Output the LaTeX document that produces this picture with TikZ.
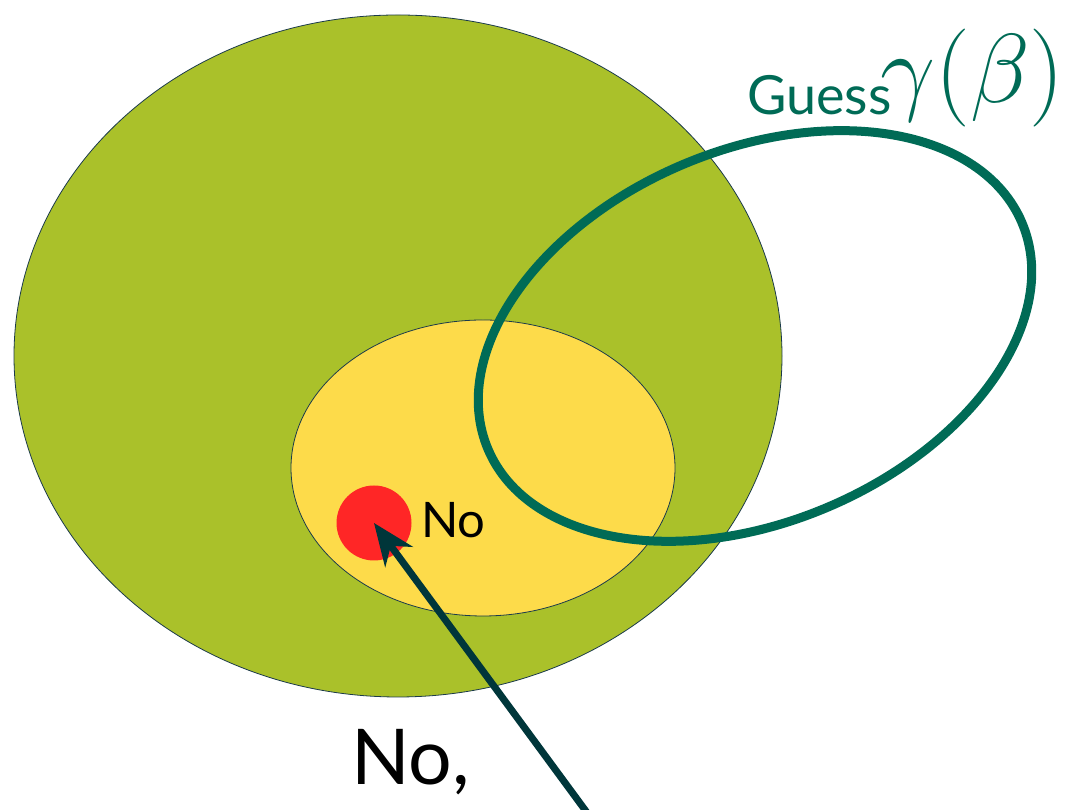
\documentclass[tikz,border=0pt]{standalone}
\usepackage{fix-cm}
\usepackage[no-math]{fontspec}
\setmainfont{Lato}
\usetikzlibrary{arrows.meta}

\definecolor{outer}{HTML}{AAC12A}
\definecolor{inner}{HTML}{FDDB4A}
\definecolor{guess}{HTML}{006B56}
\definecolor{edge}{HTML}{1B3A4B}
\definecolor{pointer}{HTML}{00363A}
\definecolor{hit}{HTML}{FF2626}

\begin{document}
\begin{tikzpicture}[
	x=1pt, y=1pt,
	set/.style = {draw=edge, line width=0.8},
	g/.style = {draw=guess, line width=9},
	p/.style = {-{Stealth[length=42, width=34]}, draw=pointer, line width=7},
	l/.style = {text=black, inner sep=0}
	]
	\useasboundingbox (0, 0) rectangle (1066, 810);
	
	%Sets
	\draw[set, fill=outer]	(398, 454)	ellipse	[x radius=384, y radius=341];
	\draw[set, fill=inner]	(483, 342)	ellipse	[x radius=192, y radius=148];
	\draw[g, rotate around={23:(755, 474)}]	(755, 474)	ellipse	[x radius=290, y radius=186];
	
	%Nodes
	\node[circle, fill=hit, minimum size=75, inner sep=0]	(dot)	at	(374, 287)	{};
	\node[l, anchor=base west]	(no-s)	at	(421, 272)	{\fontsize{49}{56}\selectfont No};
	\node[l, anchor=base west]	(no-b)	at	(351, 25)	{\fontsize{77}{88}\selectfont No,};
	\node[l, text=guess, anchor=base west]	(g-lab)	at	(747, 695)	{\fontsize{54}{64}\selectfont Guess};
	\node[l, text=guess, anchor=base west]	(g-math)	at	(880, 707)	{\fontsize{98}{108}\selectfont$\gamma(\beta)$};
	\coordinate	(src)	at	(588, -4);
	
	%Lines
	\draw[p]	(src)	to	(dot.center);
	
\end{tikzpicture}
\end{document}
